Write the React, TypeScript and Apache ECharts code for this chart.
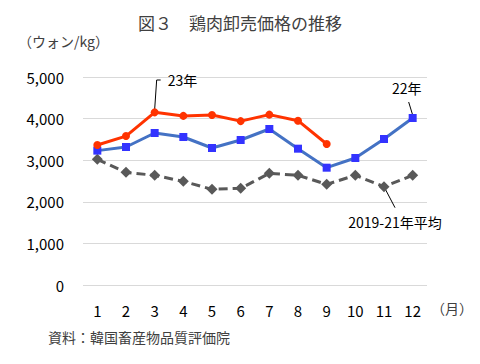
import React, { useEffect, useRef } from "react";
import * as echarts from "echarts";

const months = ["1", "2", "3", "4", "5", "6", "7", "8", "9", "10", "11", "12"];
const y2023 = [3365, 3580, 4150, 4065, 4087, 3940, 4095, 3950, 3390];
const y2022 = [3230, 3317, 3654, 3558, 3293, 3486, 3750, 3277, 2820, 3053, 3510, 4014];
const avg1921 = [3020, 2708, 2636, 2492, 2300, 2324, 2684, 2636, 2420, 2636, 2364, 2636];
const yTicks = [0, 1000, 2000, 3000, 4000, 5000];

const FONT = "'Noto Sans CJK JP', 'Noto Sans', sans-serif";

export default function App() {
  const ref = useRef<HTMLDivElement>(null);
  useEffect(() => {
    const chart = echarts.init(ref.current!, null, { renderer: "svg" });
    chart.setOption({
      animation: false,
      backgroundColor: "#fff",
      textStyle: { fontFamily: FONT },
      title: {
        text: "図３　鶏肉卸売価格の推移",
        left: "center",
        top: 9,
        textStyle: { fontFamily: FONT, fontSize: 17, fontWeight: "normal", color: "#404040" },
      },
      grid: { left: 83, right: 53, top: 77, bottom: 79 },
      xAxis: {
        type: "category",
        data: months,
        axisLine: { show: false },
        axisTick: { show: false },
        axisLabel: { color: "#000", fontSize: 15, margin: 18, fontFamily: FONT },
      },
      yAxis: {
        type: "value",
        min: yTicks[0],
        max: yTicks[yTicks.length - 1],
        interval: 1000,
        axisLabel: {
          color: "#000",
          fontSize: 15,
          margin: 19,
          fontFamily: FONT,
          formatter: (v: number) => v.toLocaleString("en-US"),
        },
        splitLine: { lineStyle: { color: "#d9d9d9", width: 1 } },
      },
      series: [
        {
          name: "2019-21年平均",
          type: "line",
          data: avg1921,
          symbol: "diamond",
          symbolSize: 11,
          itemStyle: { color: "#595959" },
          lineStyle: { color: "#595959", width: 3, type: [9, 5] },
          z: 2,
        },
        {
          name: "22年",
          type: "line",
          data: y2022,
          symbol: "rect",
          symbolSize: 8,
          itemStyle: { color: "#3333ff" },
          lineStyle: { color: "#4472c4", width: 3 },
          z: 3,
        },
        {
          name: "23年",
          type: "line",
          data: y2023,
          symbol: "circle",
          symbolSize: 8,
          itemStyle: { color: "#ff3300" },
          lineStyle: { color: "#ff3300", width: 3 },
          z: 4,
        },
      ],
    });

    const p23 = chart.convertToPixel({ gridIndex: 0 }, [2, y2023[2]]) as number[];
    const p22 = chart.convertToPixel({ gridIndex: 0 }, [11, y2022[11]]) as number[];
    const pAv = chart.convertToPixel({ gridIndex: 0 }, [10, avg1921[10]]) as number[];
    const txt = { fontFamily: FONT, fontSize: 14, fill: "#000" };
    const ln = { stroke: "#000", lineWidth: 1 };

    chart.setOption({
      graphic: [
        { type: "text", left: 18, top: 34, style: { ...txt, text: "（ウォン/kg）", fill: "#404040", fontSize: 14 } },
        { type: "text", left: 431, top: 301, style: { ...txt, text: "（月）", fill: "#404040", fontSize: 14 } },
        { type: "text", left: 48, top: 330, style: { ...txt, text: "資料：韓国畜産物品質評価院", fill: "#404040", fontSize: 14 } },
        { type: "polyline", shape: { points: [[p23[0], p23[1] - 3], [p23[0] + 2, 80], [p23[0] + 6, 80]] }, style: { ...ln, fill: null } },
        { type: "text", x: p23[0] + 13, y: 80, style: { ...txt, text: "23年", verticalAlign: "middle" } },
        { type: "line", shape: { x1: p22[0], y1: p22[1] - 3, x2: p22[0] - 4, y2: p22[1] - 16 }, style: ln },
        { type: "text", x: p22[0] - 6, y: 88, style: { ...txt, text: "22年", align: "center", verticalAlign: "middle" } },
        { type: "line", shape: { x1: pAv[0], y1: pAv[1], x2: pAv[0] + 11, y2: pAv[1] + 21 }, style: ln },
        { type: "text", x: pAv[0] + 11, y: 222, style: { ...txt, text: "2019-21年平均", align: "center", verticalAlign: "middle" } },
      ],
    });
    return () => chart.dispose();
  }, []);
  return <div ref={ref} style={{ position: "fixed", left: 0, top: 0, width: 480, height: 364 }} />;
}
